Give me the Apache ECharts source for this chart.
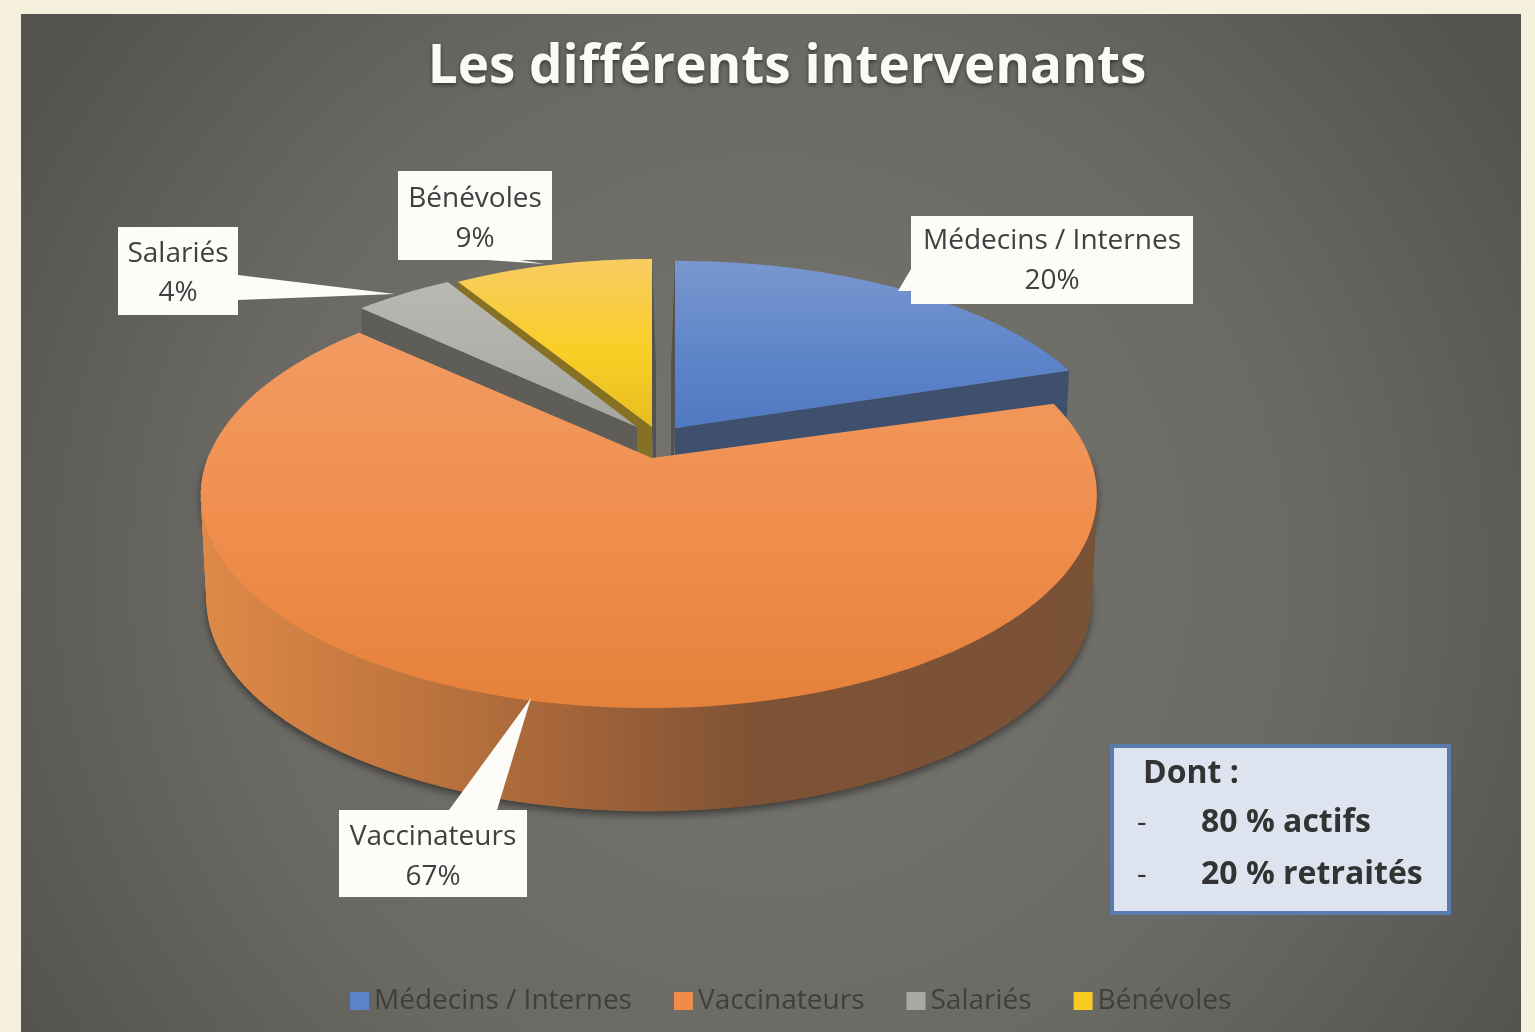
<!DOCTYPE html>
<html lang="fr">
<head>
<meta charset="utf-8">
<title>Les différents intervenants</title>
<script src="https://cdn.jsdelivr.net/npm/echarts@6/dist/echarts.min.js"></script>
<style>
    html, body { margin: 0; padding: 0; background: #F5F0DC; }
    /* the reference is a soft upscaled screenshot */
    #chart { width: 1535px; height: 1032px; filter: blur(0.5px); }
</style>
</head>
<body>
<div id="chart"></div>
<script>
const categories = ['Médecins / Internes', 'Vaccinateurs', 'Salariés', 'Bénévoles']
const values = [20, 67, 4, 9]
const noteLines = ['80 % actifs', '20 % retraités']

const FONT = '"Open Sans", Lato, sans-serif'
const legendColors = ['#5B83CC', '#F08C48', '#A9A9A4', '#F8CB22']

// perspective of the disc, apex of the pie on screen
const center = { x: 652, y: 458 }
const disc = { a: 441, b: 206.6, k: 0.174 }
const wall = { drop: 106, scale: 0.987 }

// how far each slice is pulled out, and how it shrinks with distance
const slices = [
    {
        dx: 23, dy: -30, sx: 0.99, sy: 0.95, shift: 0, pad: [0, 0],
        top: ['#7A97CF', '#5F85C9', '#4F79C2'],
        cuts: [{ at: 'end', color: '#3F506F' }, { at: 'start', color: '#53524E', skew: -4 }],
        z: 2,
    },
    {
        dx: 0, dy: 0, sx: 1, sy: 1, shift: -3, pad: [2, -0.5],
        top: ['#F29B62', '#F08D4C', '#E5813A'], outerWall: true,
        cuts: [],
        z: 5,
    },
    {
        dx: -15, dy: -31, sx: 0.96, sy: 0.94, shift: 0, pad: [0, 1.5],
        top: ['#B9B8B3', '#AFAFAA', '#A6A6A1'],
        cuts: [{ at: 'start', color: '#5E5D58' }],
        z: 4,
    },
    {
        dx: 0, dy: -31, sx: 0.942, sy: 0.955, shift: 0, pad: [0, 0],
        top: ['#F8CC62', '#F9CE25', '#E6BE22'],
        cuts: [{ at: 'start', color: '#857024' }, { at: 'end', color: '#53524E', skew: 4 }],
        z: 3,
    },
]

// white callouts: box, line centres, and the wedge pointing at the slice
const callouts = [
    { x: 911, y: 216, w: 282, h: 88, lines: [241, 281], wedge: [[911, 269], [898, 291], [911, 291]] },
    { x: 339, y: 810, w: 188, h: 87, lines: [837, 877], wedge: [[449, 810], [531, 698], [497, 810]] },
    { x: 118, y: 227, w: 120, h: 88, lines: [254, 293], wedge: [[238, 275], [395, 294], [238, 300]] },
    { x: 398, y: 171, w: 154, h: 89, lines: [199, 239], wedge: [[487, 260], [545, 264], [520, 260]] },
]

const total = values.reduce((a, b) => a + b, 0)

function sliceAngles(i) {
    const before = values.slice(0, i).reduce((a, b) => a + b, 0)
    return [before / total * 360 + slices[i].pad[0], (before + values[i]) / total * 360 + slices[i].pad[1]]
}

// rim point of a slice at the given angle, clockwise from 12 o'clock
function rimPoint(slice, deg, bottom) {
    const t = deg * Math.PI / 180
    const u = Math.sin(t)
    const v = -Math.cos(t)
    const den = 1 - disc.k * v
    const s = bottom ? wall.scale : 1
    return [
        center.x + slice.dx + slice.shift + s * slice.sx * disc.a * u / den,
        center.y + slice.dy + s * slice.sy * disc.b * v / den + (bottom ? wall.drop : 0),
    ]
}

function renderSlice(i) {
    return function (params, api) {
        const slice = slices[i]
        const [start, end] = sliceAngles(i)
        const steps = Math.ceil((end - start) / 2)
        const topRim = []
        const frontTop = []
        const frontBottom = []
        for (let n = 0; n <= steps; n++) {
            const deg = start + (end - start) * n / steps
            topRim.push(rimPoint(slice, deg, false))
            if (-Math.cos(deg * Math.PI / 180) > -0.05) {
                frontTop.push(rimPoint(slice, deg, false))
                frontBottom.push(rimPoint(slice, deg, true))
            }
        }
        const apex = [center.x + slice.dx, center.y + slice.dy]
        const apexBottom = [apex[0], apex[1] + wall.drop]
        const children = []

        // outer wall, one quad per step so the silhouette stays closed at the sides
        if (slice.outerWall) {
            const wallFill = new echarts.graphic.LinearGradient(200, 0, 1097, 0, [
                { offset: 0, color: '#DE8A48' },
                { offset: 0.2, color: '#C4783F' },
                { offset: 0.4, color: '#A5663A' },
                { offset: 0.62, color: '#7E5235' },
                { offset: 1, color: '#7A5238' },
            ], true)
            children.push({
                type: 'polygon',
                shape: { points: frontTop.concat(frontBottom.slice().reverse()) },
                style: { fill: wallFill, shadowBlur: 8, shadowColor: 'rgba(0,0,0,0.5)', shadowOffsetY: 4 },
            })
            for (let n = 0; n < frontTop.length - 1; n++) {
                children.push({
                    type: 'polygon',
                    shape: { points: [frontTop[n], frontTop[n + 1], frontBottom[n + 1], frontBottom[n]] },
                    style: { fill: wallFill, stroke: wallFill, lineWidth: 1 },
                })
            }
        }

        // flat faces along the cuts that face the viewer
        slice.cuts.forEach((cut) => {
            const deg = cut.at === 'start' ? start : end
            const skew = cut.skew || 0
            const rim = rimPoint(slice, deg, false)
            const rimLow = rimPoint(slice, deg, true)
            children.push({
                type: 'polygon',
                shape: { points: [apex, rim, [rimLow[0] + skew, rimLow[1]], [apexBottom[0] + skew, apexBottom[1]]] },
                style: { fill: cut.color },
            })
        })

        // top face
        children.push({
            type: 'polygon',
            shape: { points: [apex].concat(topRim) },
            style: {
                fill: new echarts.graphic.LinearGradient(0, 0, 0, 1, [
                    { offset: 0, color: slice.top[0] },
                    { offset: 0.55, color: slice.top[1] },
                    { offset: 1, color: slice.top[2] },
                ]),
            },
        })
        return { type: 'group', children: children }
    }
}

function renderCallout(params, api) {
    const i = params.dataIndex
    const c = callouts[i]
    const textStyle = (text, y) => ({
        text: text, x: c.x + c.w / 2, y: y,
        fill: '#404040', font: '28px ' + FONT,
        textAlign: 'center', textVerticalAlign: 'middle',
    })
    return {
        type: 'group',
        children: [
            { type: 'polygon', shape: { points: c.wedge }, style: { fill: '#FDFCF8' } },
            { type: 'rect', shape: { x: c.x, y: c.y, width: c.w, height: c.h }, style: { fill: '#FDFCF8' } },
            { type: 'text', style: textStyle(categories[i], c.lines[0]) },
            { type: 'text', style: textStyle(api.value(0) + '%', c.lines[1]) },
        ],
    }
}

const chart = echarts.init(document.getElementById('chart'), null, { renderer: 'canvas' })

const series = categories.map((name, i) => ({
    name: name,
    type: 'custom',
    coordinateSystem: 'none',
    silent: true,
    z: slices[i].z,
    itemStyle: { color: legendColors[i] },
    renderItem: renderSlice(i),
    data: [[values[i]]],
}))

series.push({
    name: 'labels',
    type: 'custom',
    coordinateSystem: 'none',
    silent: true,
    z: 8,
    renderItem: renderCallout,
    data: values.map((v) => [v]),
})

chart.setOption({
    animation: false,
    backgroundColor: '#F5F0DC',
    title: {
        text: 'Les différents intervenants',
        left: 782,
        textAlign: 'center',
        top: 36,
        textStyle: {
            fontFamily: FONT,
            fontSize: 53,
            fontWeight: 'bold',
            color: '#FBFAF5',
            textShadowColor: 'rgba(0,0,0,0.5)',
            textShadowBlur: 4,
            textShadowOffsetY: 2,
        },
    },
    legend: {
        data: categories,
        left: 345,
        top: 982,
        selectedMode: false,
        itemWidth: 19,
        itemHeight: 18,
        itemGap: 42,
        icon: 'rect',
        textStyle: { fontFamily: FONT, fontSize: 28, color: '#3F3F3C' },
    },
    graphic: [
        {
            type: 'rect',
            shape: { x: 21, y: 14, width: 1500, height: 1018 },
            style: {
                fill: new echarts.graphic.RadialGradient(0.5, 0.55, 0.88, [
                    { offset: 0, color: '#777671' },
                    { offset: 0.6, color: '#6A6964' },
                    { offset: 1, color: '#53524E' },
                ]),
            },
        },
        {
            type: 'rect',
            shape: { x: 1112, y: 746, width: 337, height: 167 },
            style: { fill: '#DEE4EF', stroke: '#5A7BAE', lineWidth: 4 },
        },
        { type: 'text', style: { text: 'Dont :', x: 1143, y: 774, fill: '#333333', font: 'bold 32px ' + FONT, textVerticalAlign: 'middle' } },
        { type: 'text', style: { text: '-', x: 1137, y: 823, fill: '#333333', font: '30px ' + FONT, textVerticalAlign: 'middle' } },
        { type: 'text', style: { text: noteLines[0], x: 1201, y: 823, fill: '#333333', font: 'bold 32px ' + FONT, textVerticalAlign: 'middle' } },
        { type: 'text', style: { text: '-', x: 1137, y: 875, fill: '#333333', font: '30px ' + FONT, textVerticalAlign: 'middle' } },
        { type: 'text', style: { text: noteLines[1], x: 1201, y: 875, fill: '#333333', font: 'bold 32px ' + FONT, textVerticalAlign: 'middle' } },
    ],
    series: series,
})
</script>
</body>
</html>
